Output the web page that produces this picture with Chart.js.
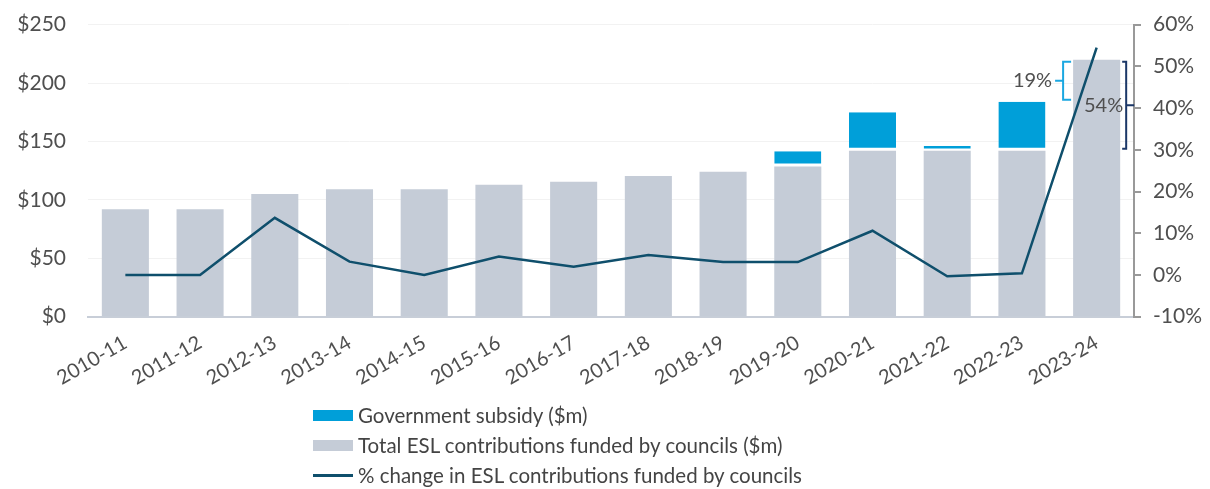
<!DOCTYPE html>
<html>
<head>
<meta charset="utf-8">
<script src="https://cdn.jsdelivr.net/npm/chart.js@4.4.1/dist/chart.umd.min.js"></script>
<style>
  body { margin: 0; background: #fff; font-family: Lato, 'Open Sans', sans-serif; overflow: hidden; }
  #wrap { position: relative; width: 1210px; height: 489px; overflow: hidden; }
  #box { position: absolute; left: 0; top: -10px; width: 1210px; height: 415px; }
  #legend { position: absolute; left: 313px; top: 400px; color: #444; font-size: 20.5px; }
  .row { height: 30px; display: flex; align-items: center; }
  .sw { width: 40px; height: 11px; margin-right: 5px; }
  .ln { width: 40px; height: 3px; margin-right: 5px; }
</style>
</head>
<body>
<div id="wrap">
  <div id="box"><canvas id="chart"></canvas></div>
  <div id="legend"></div>
</div>
<script>
const categories = ['2010-11', '2011-12', '2012-13', '2013-14', '2014-15', '2015-16', '2016-17',
  '2017-18', '2018-19', '2019-20', '2020-21', '2021-22', '2022-23', '2023-24'];
const councilFunded = [92, 92, 105, 109, 109, 113, 115.5, 120.5, 124, 128.5, 142, 142, 142, 220];
const govSubsidy = [null, null, null, null, null, null, null, null, null, 13, 33, 4, 42, null];
const pctChange = [0, 0, 13.7, 3.2, 0, 4.4, 2, 4.8, 3.1, 3.1, 10.6, -0.3, 0.4, 54.5];
const dollarTicks = [0, 50, 100, 150, 200, 250];
const pctTicks = [-10, 0, 10, 20, 30, 40, 50, 60];

const seriesNames = ['Government subsidy ($m)', 'Total ESL contributions funded by councils ($m)',
  '% change in ESL contributions funded by councils'];
const colors = { subsidy: '#009fd9', council: '#c5ccd7', line: '#0f4f6c', navy: '#1b3767', text: '#4f4f4f' };

// brackets on the last bar: growth vs 2022-23 total, and vs 2022-23 council share
const last = categories.length - 1;
const brackets = [
  { label: '19%', from: councilFunded[last - 1] + govSubsidy[last - 1], to: councilFunded[last], side: 'left', color: '#1aa7e1' },
  { label: '54%', from: councilFunded[last - 1], to: councilFunded[last], side: 'right', color: colors.navy }
];

const bracketPlugin = {
  id: 'brackets',
  afterDatasetsDraw(chart) {
    const { ctx, scales } = chart;
    const y = scales.y;
    const bar = chart.getDatasetMeta(0).data[last];
    ctx.save();
    ctx.lineWidth = 2;
    ctx.font = '20px Lato';
    ctx.textBaseline = 'middle';
    ctx.textAlign = 'right';
    brackets.forEach(b => {
      const top = y.getPixelForValue(b.to) + 2;
      const bot = y.getPixelForValue(b.from) - 2;
      const mid = (top + bot) / 2;
      let xv, arm, nub;
      if (b.side === 'left') {
        xv = bar.x - bar.width / 2 - 10; arm = 8; nub = -8;
      } else {
        xv = bar.x + bar.width / 2 + 6; arm = -4; nub = 8;
      }
      ctx.strokeStyle = b.color;
      ctx.beginPath();
      ctx.moveTo(xv + arm, top);
      ctx.lineTo(xv, top);
      ctx.lineTo(xv, bot);
      ctx.lineTo(xv + arm, bot);
      ctx.moveTo(xv, mid);
      ctx.lineTo(xv + nub, mid);
      ctx.stroke();
      ctx.fillStyle = colors.text;
      const tx = b.side === 'left' ? xv + nub - 3 : xv - 3;
      ctx.fillText(b.label, tx, mid);
    });
    ctx.restore();
  }
};

new Chart(document.getElementById('chart'), {
  type: 'bar',
  data: {
    labels: categories,
    datasets: [
      {
        label: seriesNames[1],
        data: councilFunded,
        backgroundColor: colors.council,
        stack: 's',
        order: 2,
        categoryPercentage: 1,
        barPercentage: 0.63
      },
      {
        label: seriesNames[0],
        data: govSubsidy,
        backgroundColor: colors.subsidy,
        borderColor: '#fff',
        borderWidth: { bottom: 3, top: 0, left: 0, right: 0 },
        borderSkipped: false,
        stack: 's',
        order: 3,
        categoryPercentage: 1,
        barPercentage: 0.63
      },
      {
        type: 'line',
        label: seriesNames[2],
        data: pctChange,
        yAxisID: 'y1',
        borderColor: colors.line,
        borderWidth: 2.5,
        pointRadius: 0,
        tension: 0,
        order: 0
      }
    ]
  },
  options: {
    responsive: true,
    maintainAspectRatio: false,
    animation: false,
    layout: { padding: { top: 5, bottom: 9 } },
    plugins: { legend: { display: false }, tooltip: { enabled: false } },
    scales: {
      x: {
        stacked: true,
        grid: { display: false },
        border: { display: true, color: '#c8ced8', width: 2 },
        ticks: { color: colors.text, font: { family: 'Lato', size: 20 }, minRotation: 30, maxRotation: 30, padding: 6 }
      },
      y: {
        stacked: true,
        min: 0, max: 250,
        afterFit(s) { s.width = 88; },
        afterBuildTicks(s) { s.ticks = dollarTicks.map(v => ({ value: v })); },
        grid: { color: '#f2f2f2', drawTicks: false },
        border: { display: false },
        ticks: { color: colors.text, font: { family: 'Lato', size: 21 }, padding: 22, callback: v => '$' + v }
      },
      y1: {
        position: 'right',
        min: -10, max: 60,
        afterFit(s) { s.width = 76; },
        afterBuildTicks(s) { s.ticks = pctTicks.map(v => ({ value: v })); },
        grid: { drawOnChartArea: false, color: '#999', lineWidth: 2, tickLength: 7 },
        border: { display: true, color: '#999', width: 2 },
        ticks: { color: colors.text, font: { family: 'Lato', size: 21 }, padding: 12, callback: v => v + '%' }
      }
    }
  },
  plugins: [bracketPlugin]
});

const legend = document.getElementById('legend');
[
  { name: seriesNames[0], cls: 'sw', color: colors.subsidy },
  { name: seriesNames[1], cls: 'sw', color: colors.council },
  { name: seriesNames[2], cls: 'ln', color: colors.line }
].forEach(it => {
  const row = document.createElement('div');
  row.className = 'row';
  row.innerHTML = '<span class="' + it.cls + '" style="background:' + it.color + '"></span><span>' + it.name + '</span>';
  legend.appendChild(row);
});
</script>
</body>
</html>
